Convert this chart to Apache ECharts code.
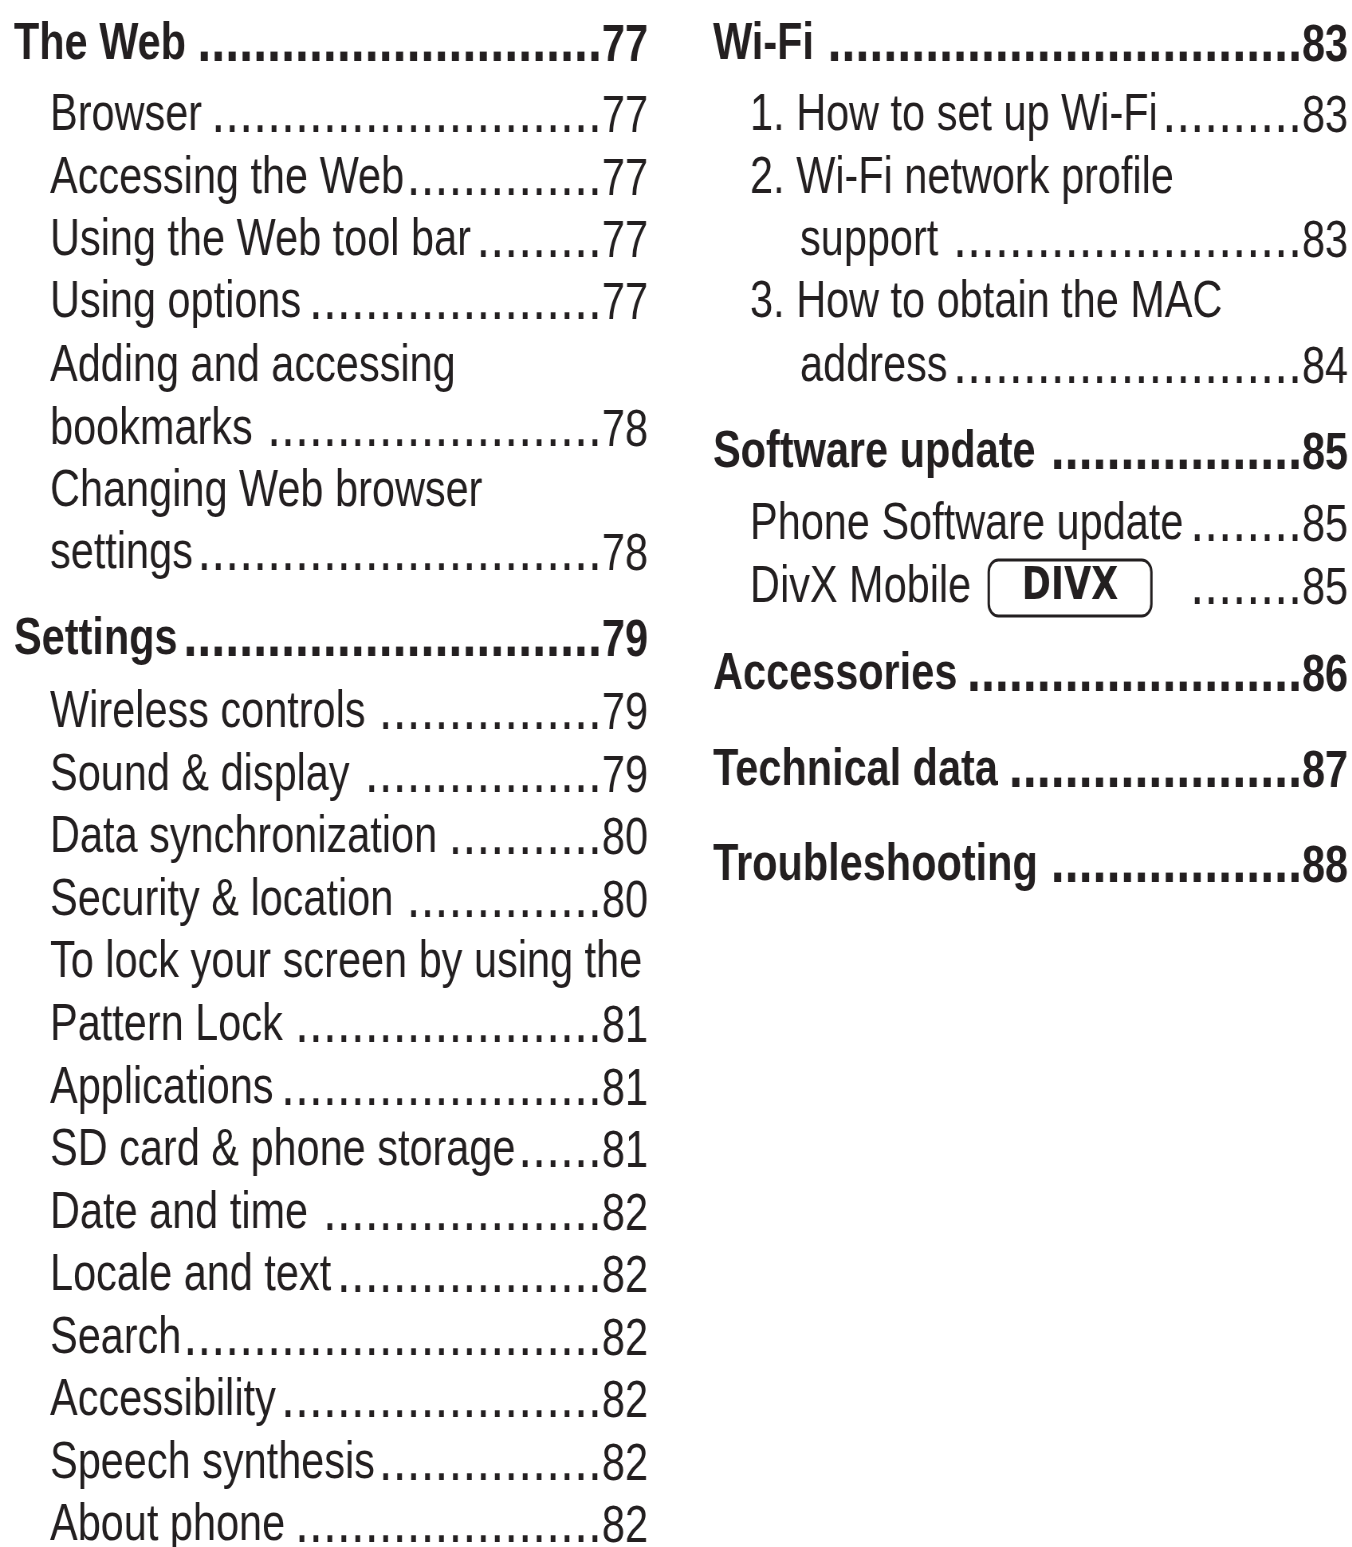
<!DOCTYPE html>
<html><head><meta charset="utf-8">
<script src="https://cdn.jsdelivr.net/npm/echarts@6/dist/echarts.min.js"></script>
<style>
html,body{margin:0;padding:0;background:#fff;overflow:hidden;width:1352px;height:1547px}
#c{width:1696px;height:1547px;transform:scaleX(0.7972);transform-origin:0 0}
</style>
</head><body><div id="c"></div>
<script>
// ---- data ----
const leftTitles = ['The Web','Browser','Accessing the Web','Using the Web tool bar','Using options','Adding and accessing','bookmarks','Changing Web browser','settings','Settings','Wireless controls','Sound & display','Data synchronization','Security & location','To lock your screen by using the','Pattern Lock','Applications','SD card & phone storage','Date and time','Locale and text','Search','Accessibility','Speech synthesis','About phone'];
const leftPages  = ['77','77','77','77','77','','78','','78','79','79','79','80','80','','81','81','81','82','82','82','82','82','82'];
const leftLevels = [0,1,1,1,1,1,1,1,1,0,1,1,1,1,1,1,1,1,1,1,1,1,1,1];
const leftRows   = [42,113,176,238,300,364,427,489,551,637,710,773,835,898,960,1023,1086,1148,1211,1273,1336,1398,1461,1523];

const rightTitles = ['Wi-Fi','1. How to set up Wi-Fi','2. Wi-Fi network profile','support','3. How to obtain the MAC','address','Software update','Phone Software update','DivX Mobile','Accessories','Technical data','Troubleshooting'];
const rightPages  = ['83','83','','83','','84','85','85','85','86','87','88'];
const rightLevels = [0,1,1,2,1,2,0,1,1,0,0,0];
const rightRows   = [42,113,176,238,300,364,450,522,585,672,768,863];
const logoEntry = 'DivX Mobile';

// ---- layout / style ----
const S = 0.7972;                       // horizontal condensing of the page
const FONT = '"Liberation Sans",Arial,Helvetica,sans-serif';
const INK = '#231f20';
const FS = 52, DFS = 63;
const colStart = [[14,50,100],[713,750,800]];
const colEnd = [648,1348];
const LOGO_W = 204, SP_W = 22, LOGO_GAP = 18;

const ctx = document.createElement('canvas').getContext('2d');
function tw(text, weight, size){ ctx.font = weight + ' ' + size + 'px ' + FONT; return ctx.measureText(text).width; }

const titleData = [], pageData = [];
function add(titles, pages, levels, rows, col){
  titles.forEach((t,i)=>{
    const bold = levels[i]===0;
    const w = bold ? 'bold' : 'normal';
    const isLogo = t===logoEntry;
    const x0 = colStart[col][levels[i]];
    titleData.push({ name: t, value: [x0, rows[i]], logo: isLogo, label: { fontWeight: w } });
    if (pages[i]) {
      let used = tw(t, w, FS) + tw(pages[i], w, FS) + (isLogo ? tw(' ', w, FS) + SP_W + LOGO_W + 6 + LOGO_GAP : 2);
      const avail = (colEnd[col] - x0) / S - used;
      const n = Math.max(0, Math.floor(avail / tw('.', w, DFS)));
      pageData.push({ name: pages[i], value: [colEnd[col], rows[i]], bold: bold, dots: '.'.repeat(n) });
    }
  });
}
add(leftTitles, leftPages, leftLevels, leftRows, 0);
add(rightTitles, rightPages, rightLevels, rightRows, 1);

const chart = echarts.init(document.getElementById('c'), null, {renderer:'canvas'});
chart.setOption({
  animation: false,
  backgroundColor: '#fff',
  grid: {left:0, right:0, top:0, bottom:0},
  xAxis: {type:'value', min:0, max:1352, show:false},
  yAxis: {type:'value', min:0, max:1547, inverse:true, show:false},
  series: [
    {
      type:'scatter', z:2, symbolSize:0, silent:true, data: pageData,
      itemStyle:{opacity:1},
      label: {
        show:true, position:'left', distance:0, align:'right', verticalAlign:'middle', opacity:1, offset:[0,3],
        formatter: p => p.data.bold ? `{db|${p.data.dots}}{pb|${p.name}}` : `{d|${p.data.dots}}{p|${p.name}}`,
        rich: {
          d:{fontFamily:FONT, fontSize:DFS, color:INK, verticalAlign:'bottom', padding:[0,0,3,0]},
          p:{fontFamily:FONT, fontSize:FS, color:INK, verticalAlign:'bottom', padding:[0,0,5.5,0]},
          db:{fontFamily:FONT, fontSize:DFS, color:INK, fontWeight:'bold', verticalAlign:'bottom', padding:[0,0,3,0]},
          pb:{fontFamily:FONT, fontSize:FS, color:INK, fontWeight:'bold', verticalAlign:'bottom', padding:[0,0,5.5,0]}
        }
      }
    },
    {
      type:'scatter', z:5, symbolSize:0, silent:true, data: titleData,
      itemStyle:{opacity:1},
      label: {
        show:true, position:'right', distance:0, align:'left', verticalAlign:'middle', opacity:1, offset:[0,3],
        fontFamily:FONT, fontSize:FS, color:INK,
        formatter: p => p.data.logo ? p.name + '{sp| }{logo|DIVX}' : p.name,
        rich: {
          sp:{fontFamily:FONT, fontSize:FS, width:SP_W},
          logo:{fontFamily:'"DejaVu Sans",sans-serif', fontWeight:'bold', fontSize:44, color:INK,
                borderColor:INK, borderWidth:3, borderRadius:12, width:LOGO_W, height:56, align:'center'}
        }
      }
    }
  ]
});
</script></body></html>
